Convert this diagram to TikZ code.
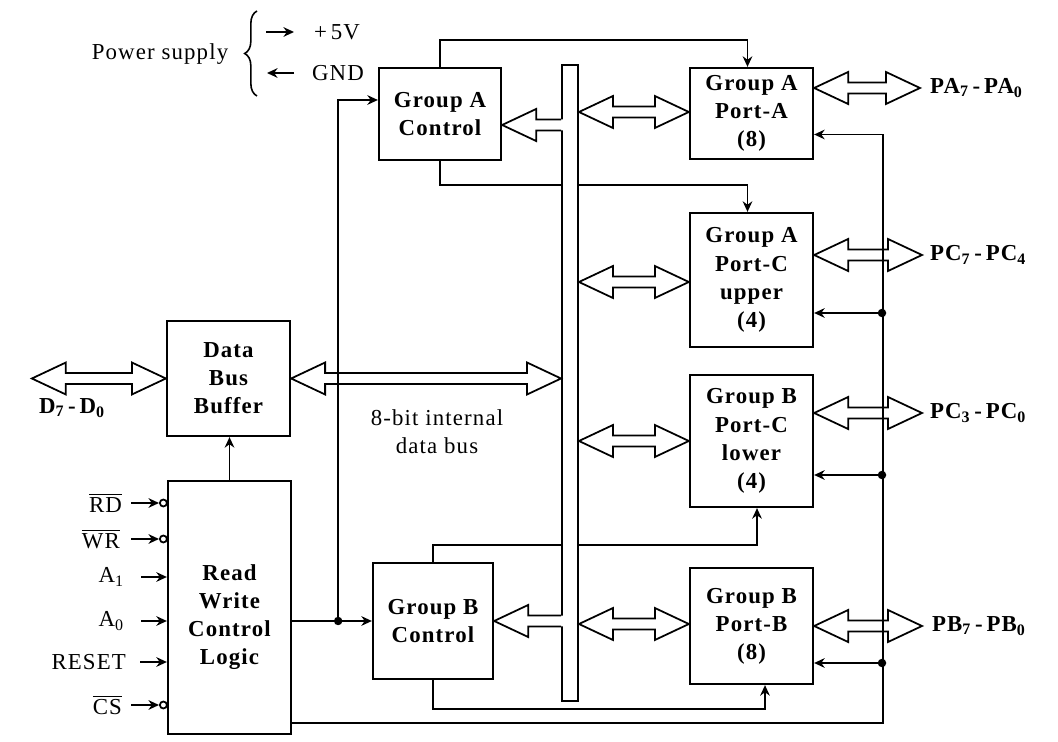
\documentclass[tikz,border=0pt]{standalone}
\usepackage{fontspec}
\setmainfont{Liberation Serif}[LetterSpace=5]
\usetikzlibrary{calc,arrows.meta,decorations.pathreplacing}
\newcommand{\fhl}{0.68cm}
\newcommand{\fhw}{0.32cm}
\newcommand{\fsw}{0.11cm}
% double-headed hollow bus arrow, y taken from #1
\newcommand{\fatboth}[2]{%
 \draw[fatline] let \p1=(#1), \p2=(#2) in
  (\x1,\y1) -- (\x1+\fhl,\y1+\fhw) -- (\x1+\fhl,\y1+\fsw) -- (\x2-\fhl,\y1+\fsw) --
  (\x2-\fhl,\y1+\fhw) -- (\x2,\y1) -- (\x2-\fhl,\y1-\fhw) -- (\x2-\fhl,\y1-\fsw) --
  (\x1+\fhl,\y1-\fsw) -- (\x1+\fhl,\y1-\fhw) -- cycle;}
% single-headed hollow arrow, tip #1, open tail at #2 (bar)
\newcommand{\fatone}[2]{%
 \fill[white] let \p1=(#1), \p2=(#2) in
  (\x2+1.4pt,\y1+\fsw) -- (\x1+\fhl,\y1+\fsw) -- (\x1+\fhl,\y1+\fhw) -- (\x1,\y1) --
  (\x1+\fhl,\y1-\fhw) -- (\x1+\fhl,\y1-\fsw) -- (\x2+1.4pt,\y1-\fsw) -- cycle;
 \draw[fatline, fill=none] let \p1=(#1), \p2=(#2) in
  (\x2,\y1+\fsw) -- (\x1+\fhl,\y1+\fsw) -- (\x1+\fhl,\y1+\fhw) -- (\x1,\y1) --
  (\x1+\fhl,\y1-\fhw) -- (\x1+\fhl,\y1-\fsw) -- (\x2,\y1-\fsw);}
\begin{document}
\begin{tikzpicture}[x=0.02cm, y=-0.02cm,
  >={Stealth[length=6pt,width=5.5pt]},
  every node/.style={font=\fontsize{13}{16}\selectfont},
  box/.style={draw, line width=1.3pt, align=center, inner sep=0pt,
              font=\fontsize{13}{16}\selectfont\bfseries},
  conn/.style={line width=1pt},
  fatline/.style={line width=1pt, fill=white, line join=miter},
  dot/.style={circle, fill=black, inner sep=0pt, minimum size=0.17cm},
  bubble/.style={circle, draw, line width=1pt, inner sep=0pt, minimum size=0.14cm, fill=white},
  lab/.style={inner sep=1pt},
  blab/.style={inner sep=1pt, font=\fontsize{13}{16}\selectfont\bfseries}]
\useasboundingbox[fill=white] (0,0) rectangle (1058,742);

% ---- blocks
\node[box, minimum width=2.44cm, minimum height=1.84cm] (gac) at (440,114) {Group A\\Control};
\node[box, minimum width=2.46cm, minimum height=1.82cm] (pa) at (751.5,113.5) {Group A\\Port-A\\(8)};
\node[box, minimum width=2.46cm, minimum height=2.68cm] (pcu) at (751.5,280) {Group A\\Port-C\\upper\\(4)};
\node[box, minimum width=2.46cm, minimum height=2.64cm] (pcl) at (751.5,441) {Group B\\Port-C\\lower\\(4)};
\node[box, minimum width=2.46cm, minimum height=2.32cm] (pb) at (751.5,626) {Group B\\Port-B\\(8)};
\node[box, minimum width=2.40cm, minimum height=2.32cm] (gbc) at (433,621) {Group B\\Control};
\node[box, minimum width=2.46cm, minimum height=2.30cm] (dbb) at (228.5,378.5) {Data\\Bus\\Buffer};
\node[box, minimum width=2.46cm, minimum height=5.06cm] (rw) at (229.5,607.5) {};
\node[box, draw=none] (rwt) at (229.5,617) {Read\\Write\\Control\\Logic};

% ---- lines passing behind the internal bus bar
\draw[conn,->] (gac.south) -- (gac.south |- 0,185) -| ($(pcu.north)+(-4,0)$);
\draw[conn,->] (gbc.north) -- (gbc.north |- 0,545) -| ($(pcl.south)+(5.5,0)$);

% ---- internal bus bar
\node[draw, fill=white, line width=1.1pt, minimum width=0.32cm, minimum height=12.72cm, inner sep=0pt] (bar) at (570,383) {};

% ---- labels
\node[lab] (ps) at (160,54) {Power supply};
\node[lab, anchor=west] (v5) at (312,32) {+\,5V};
\node[lab, anchor=west] (gnd) at (310,73) {GND};
\node[lab, align=center] (ibl) at (437,432) {8-bit internal\\data bus};
\node[blab] (dlab) at (72,408) {D\textsubscript{7}\,-\,D\textsubscript{0}};
\node[blab, anchor=west] (pal) at (928,88) {PA\textsubscript{7}\,-\,PA\textsubscript{0}};
\node[blab, anchor=west] (pcul) at (928,255) {PC\textsubscript{7}\,-\,PC\textsubscript{4}};
\node[blab, anchor=west] (pcll) at (928,413) {PC\textsubscript{3}\,-\,PC\textsubscript{0}};
\node[blab, anchor=west] (pbl) at (930,626) {PB\textsubscript{7}\,-\,PB\textsubscript{0}};

% ---- fat bus arrows
\fatboth{$(dbb.west)+(-134,0)$}{dbb.west}
\fatboth{dbb.east}{bar.west |- dbb.east}
\fatone{$(gac.east)+(0,11)$}{bar.west}
\fatone{gbc.east}{bar.west}
\fatboth{$(bar.east |- pa.west)+(0,-1.5)$}{pa.west}
\fatboth{$(bar.east |- pcu.west)+(0,2)$}{pcu.west}
\fatboth{bar.east |- pcl.west}{pcl.west}
\fatboth{$(bar.east |- pb.west)+(0,-2)$}{pb.west}
\fatboth{pa.east |- pal.west}{$(pal.west)+(-8,0)$}
\fatboth{pcu.east |- pcul.west}{$(pcul.west)+(-6,0)$}
\fatboth{pcl.east |- pcll.west}{$(pcll.west)+(-6,0)$}
\fatboth{pb.east |- pbl.west}{$(pbl.west)+(-8,0)$}

% ---- power supply
\draw[line width=0.9pt, decorate, decoration={brace, amplitude=7pt}] (257,96) -- (257,11);
\draw[conn,->] ($(v5.west)+(-46,0)$) -- ($(v5.west)+(-18,0)$);
\draw[conn,->] ($(gnd.west)+(-16,0)$) -- ($(gnd.west)+(-43,0)$);

% ---- control lines
\draw[conn,->] (gac.north) -- (gac.north |- 0,40) -| ($(pa.north)+(-4,0)$);
\draw[conn,->] (gbc.south) -- (gbc.south |- 0,709) -| ($(pb.south)+(13.5,0)$);
\draw[conn,->] (rw.north) -- (rw.north |- dbb.south);
\draw[conn,->] (rw.east |- gbc.west) -- (gbc.west);
\node[dot] (j1) at ($(rw.east |- gbc.west)+(46,0)$) {};
\draw[conn,->] (j1.center) |- ($(gac.west)+(0,-14)$);
\draw[conn,->] ($(rw.south east)+(0,-12)$) -| ($(pa.east)+(69,21)$) -- ($(pa.east)+(0,21)$);
\node[dot] (d1) at (882,313) {};
\node[dot] (d2) at (882,475) {};
\node[dot] (d3) at (882,663) {};
\draw[conn,->] (d1.center) -- (d1.center -| pcu.east);
\draw[conn,->] (d2.center) -- (d2.center -| pcl.east);
\draw[conn,->] (d3.center) -- (d3.center -| pb.east);

% ---- inputs of read/write control logic
\node[lab, anchor=east] (lrd) at (124,503) {$\overline{\mbox{RD}}$};
\node[lab, anchor=east] (lwr) at (122,539) {$\overline{\mbox{WR}}$};
\node[lab, anchor=east] (la1) at (126,577) {A\textsubscript{1}};
\node[lab, anchor=east] (la0) at (126,621) {A\textsubscript{0}};
\node[lab, anchor=east] (lrs) at (128,662) {RESET};
\node[lab, anchor=east] (lcs) at (124,705) {$\overline{\mbox{CS}}$};
\node[bubble] (brd) at ($(rw.west |- lrd.east)+(-3.5,0)$) {};
\node[bubble] (bwr) at ($(rw.west |- lwr.east)+(-3.5,0)$) {};
\node[bubble] (bcs) at ($(rw.west |- lcs.east)+(-3.5,0)$) {};
\draw[conn,->] ($(lrd.east)+(7,0)$) -- (brd.west);
\draw[conn,->] ($(lwr.east)+(9,0)$) -- (bwr.west);
\draw[conn,->] ($(lcs.east)+(7,0)$) -- (bcs.west);
\draw[conn,->] ($(la1.east)+(15,0)$) -- (rw.west |- la1.east);
\draw[conn,->] ($(la0.east)+(15,0)$) -- (rw.west |- la0.east);
\draw[conn,->] ($(lrs.east)+(12,0)$) -- (rw.west |- lrs.east);
\end{tikzpicture}
\end{document}
